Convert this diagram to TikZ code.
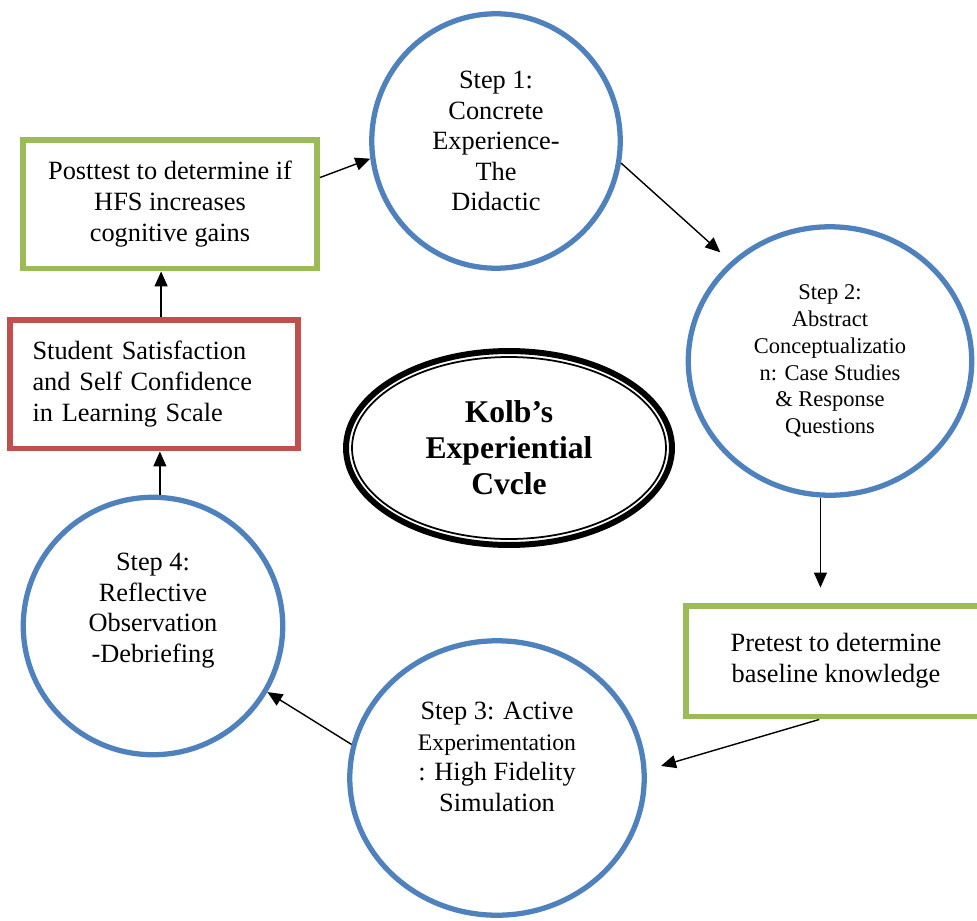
\documentclass[tikz,border=0pt]{standalone}
\usepackage{fontspec}
\setmainfont{Liberation Serif}
\usetikzlibrary{arrows.meta,shapes.geometric,positioning}
\definecolor{ringblue}{HTML}{4F81BD}
\definecolor{boxgreen}{HTML}{9BBB59}
\definecolor{boxred}{HTML}{C0504D}
\tikzset{stepring/.style={draw=ringblue,ellipse,line width=3pt,inner sep=0},
    steptext/.style={align=center,font=\fontsize{15}{17.4}\selectfont},
    smallsteptext/.style={align=center,font=\fontsize{12.8}{15.3}\selectfont},
    greenbox/.style={draw=boxgreen,rectangle,line width=3.4pt,align=center,font=\fontsize{15}{17.6}\selectfont},
    redbox/.style={draw=boxred,rectangle,line width=3.4pt,align=left,font=\fontsize{15}{17.6}\selectfont},
    flow/.style={-{Triangle[length=0.3cm,width=0.26cm]},line width=0.8pt}}

\begin{document}
\begin{tikzpicture}[x=0.02cm,y=-0.02cm]
\useasboundingbox (0,0) rectangle (977,920);

% the four steps
\node (s1) [stepring,minimum width=4.97cm,minimum height=5.09cm] at (496,141) {};
\node (s2) [stepring,minimum width=5.67cm,minimum height=5.37cm] at (830,361) {};
\node (s3) [stepring,minimum width=5.89cm,minimum height=5.49cm] at (497,778) {};
\node (s4) [stepring,minimum width=5.19cm,minimum height=5.15cm] at (153,626) {};

\node (t1) [steptext] at (s1) {Step 1:\\Concrete\\Experience-\\The\\Didactic};
\node (t2) [smallsteptext] at (s2) {Step 2:\\Abstract\\Conceptualizatio\\n: Case Studies\\\& Response\\Questions};
\node (t3) [steptext] at ([yshift=0.42cm]s3.center) {Step 3: Active\\{\fontsize{13.5}{15.5}\selectfont Experimentation}\\: High Fidelity\\Simulation};
\node (t4) [steptext] at ([yshift=0.31cm]s4.center) {Step 4:\\Reflective\\Observation\\-Debriefing};

% tests and scale
\node (post) [greenbox,minimum width=5.88cm,minimum height=2.58cm] at (170,204) {Posttest to determine if\\HFS increases\\cognitive gains};
\node (red) [redbox,minimum width=5.78cm,minimum height=2.58cm,text width=4.86cm,inner xsep=0.46cm] at (154,384) {Student Satisfaction\\and Self Confidence\\in Learning Scale};
\node (pre) [greenbox,minimum width=6.0cm,minimum height=2.22cm] at (836,661) {Pretest to determine\\baseline knowledge};

% centre
\node (kolb) [ellipse,draw,line width=3.4pt,minimum width=6.52cm,minimum height=3.88cm,align=center,font=\bfseries\fontsize{18}{20.4}\selectfont] at (509,448) {Kolb’s\\Experiential\\Cvcle};
\draw [line width=1pt] (kolb.center) ellipse [x radius=157,y radius=91];

% cycle
\draw [flow] (post.10) -- (s1.188);
\draw [flow,shorten >=0.28cm] (s1.-10) -- (s2.135);
\draw [flow,shorten >=0.3cm] (s2.-94) -- (s2.-94 |- pre.north);
\draw [flow,shorten >=0.3cm] (pre.-106) -- (s3.3);
\draw [flow] (s3.167) -- (s4.-30);
\draw [flow] (s4.87) -- (s4.87 |- red.south);
\draw [flow] (red.84) -- (red.84 |- post.south);

\end{tikzpicture}
\end{document}
